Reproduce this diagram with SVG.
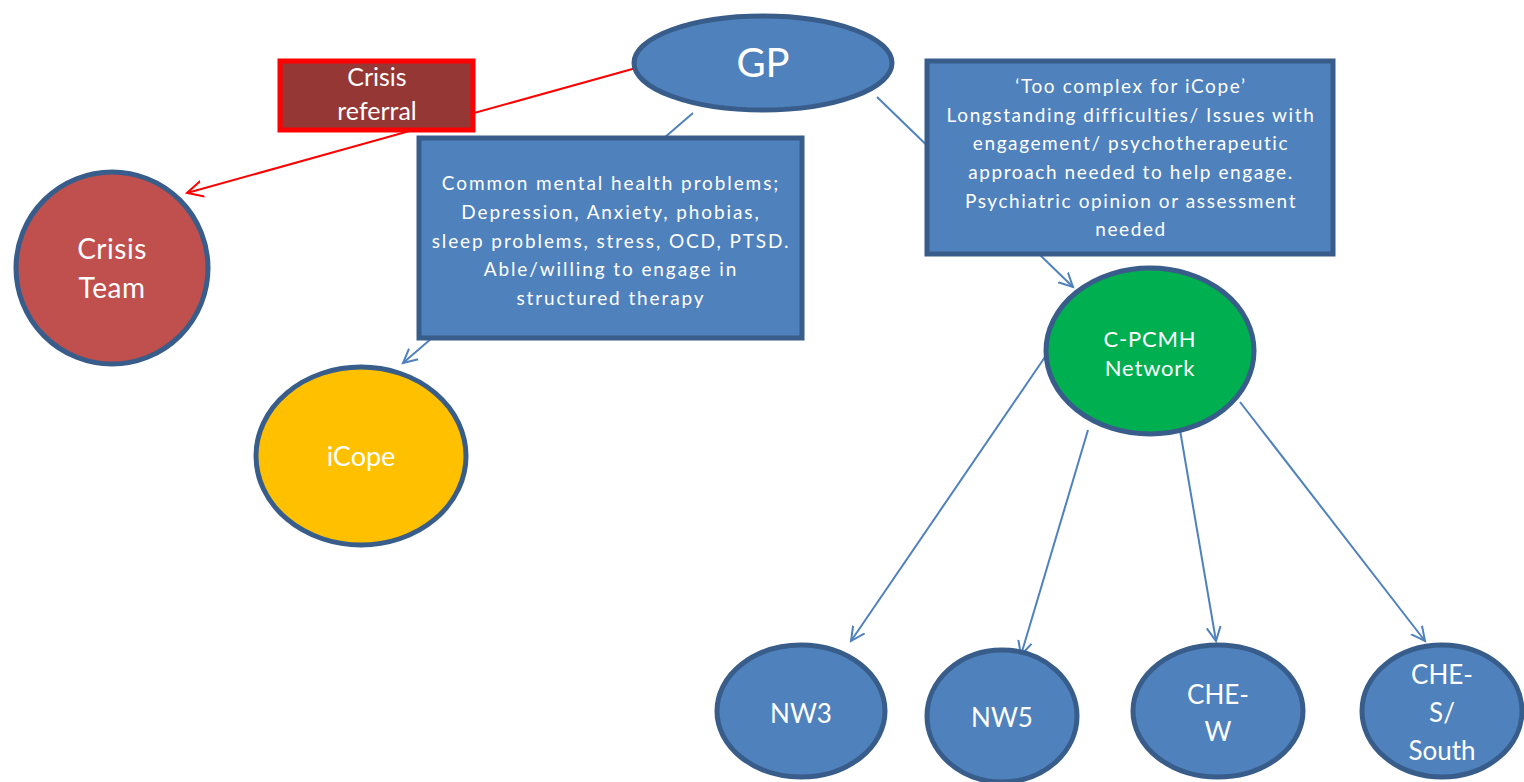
<svg xmlns="http://www.w3.org/2000/svg" width="1524" height="782" viewBox="0 0 1524 782">
<style>
.n{stroke:#385D8A;stroke-width:5}
.t{font-family:Lato,"Open Sans","Liberation Sans",sans-serif;fill:#fff;text-anchor:middle}
.b{font-size:19px;letter-spacing:1.9px}
.c{fill:none;stroke:#4F81BD;stroke-width:2}
</style>
<defs>
<marker id="ab" markerWidth="20" markerHeight="20" refX="14" refY="7" orient="auto" markerUnits="userSpaceOnUse" viewBox="0 0 20 14">
<path d="M0,0 L14,7 L0,14" fill="none" stroke="#4F81BD" stroke-width="2"/>
</marker>
<marker id="ar" markerWidth="22" markerHeight="22" refX="16" refY="8" orient="auto" markerUnits="userSpaceOnUse" viewBox="0 0 22 16">
<path d="M0,0 L16,8 L0,16" fill="none" stroke="#FF0000" stroke-width="2"/>
</marker>
</defs>
<g id="connectors">
<line x1="636" y1="68" x2="187" y2="193" stroke="#FF0000" stroke-width="2" marker-end="url(#ar)"/>
<line class="c" x1="693" y1="113" x2="403" y2="363" marker-end="url(#ab)"/>
<line class="c" x1="877" y1="97" x2="1073" y2="287" marker-end="url(#ab)"/>
<line class="c" x1="1045" y1="357" x2="851" y2="641" marker-end="url(#ab)"/>
<line class="c" x1="1088" y1="430" x2="1021" y2="655" marker-end="url(#ab)"/>
<line class="c" x1="1180" y1="430" x2="1216" y2="641" marker-end="url(#ab)"/>
<line class="c" x1="1240" y1="402" x2="1425" y2="641" marker-end="url(#ab)"/>
</g>
<g id="gp">
<ellipse class="n" cx="763" cy="63" rx="129" ry="47" fill="#4F81BD"/>
<text class="t" x="763" y="77" font-size="40">GP</text>
</g>
<g id="crisis-referral">
<rect x="280" y="61" width="193" height="69" fill="#953735" stroke="#FF0000" stroke-width="5"/>
<text class="t" x="377" y="86" font-size="25">Crisis</text>
<text class="t" x="377" y="120" font-size="25">referral</text>
</g>
<g id="crisis-team">
<circle class="n" cx="112" cy="268" r="96" fill="#C0504D"/>
<text class="t" x="112" y="259" font-size="28" letter-spacing="0.5">Crisis</text>
<text class="t" x="112" y="298" font-size="28" letter-spacing="0.5">Team</text>
</g>
<g id="common-box">
<rect class="n" x="419" y="138" width="383" height="200" fill="#4F81BD"/>
<g class="t b">
<text x="611" y="190">Common mental health problems;</text>
<text x="611" y="219">Depression, Anxiety, phobias,</text>
<text x="611" y="248">sleep problems, stress, OCD, PTSD.</text>
<text x="611" y="276">Able/willing to engage in</text>
<text x="611" y="305">structured therapy</text>
</g>
</g>
<g id="icope">
<ellipse class="n" cx="361" cy="456" rx="105" ry="89" fill="#FFC000"/>
<text class="t" x="361" y="466" font-size="27">iCope</text>
</g>
<g id="complex-box">
<rect class="n" x="927" y="61" width="406" height="193" fill="#4F81BD"/>
<g class="t b" style="letter-spacing:1.6px">
<text x="1131" y="93">‘Too complex for iCope’</text>
<text x="1131" y="122">Longstanding difficulties/ Issues with</text>
<text x="1131" y="150">engagement/ psychotherapeutic</text>
<text x="1131" y="179">approach needed to help engage.</text>
<text x="1131" y="208">Psychiatric  opinion or assessment</text>
<text x="1131" y="236">needed</text>
</g>
</g>
<g id="cpcmh">
<ellipse class="n" cx="1150" cy="351" rx="104" ry="83" fill="#00B050"/>
<text class="t" x="1150" y="347" font-size="22" letter-spacing="0.8">C-PCMH</text>
<text class="t" x="1150" y="376" font-size="22" letter-spacing="0.8">Network</text>
</g>
<g id="nw3">
<ellipse class="n" cx="801" cy="711" rx="84" ry="66" fill="#4F81BD"/>
<text class="t" x="801" y="723" font-size="26">NW3</text>
</g>
<g id="nw5">
<ellipse class="n" cx="1002" cy="716" rx="75" ry="66" fill="#4F81BD"/>
<text class="t" x="1002" y="727" font-size="26">NW5</text>
</g>
<g id="che-w">
<ellipse class="n" cx="1218" cy="711" rx="85" ry="66" fill="#4F81BD"/>
<text class="t" x="1218" y="704" font-size="26">CHE-</text>
<text class="t" x="1218" y="741" font-size="26">W</text>
</g>
<g id="che-s">
<ellipse class="n" cx="1442" cy="711" rx="80" ry="66" fill="#4F81BD"/>
<text class="t" x="1442" y="684" font-size="26">CHE-</text>
<text class="t" x="1442" y="722" font-size="26">S/</text>
<text class="t" x="1442" y="760" font-size="26">South</text>
</g>
</svg>
